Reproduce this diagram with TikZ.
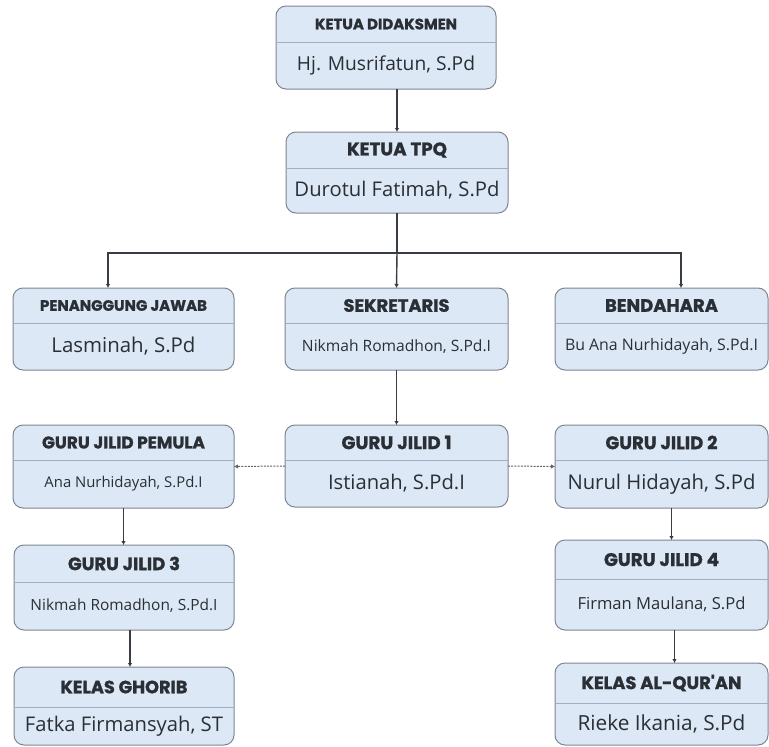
\documentclass[tikz,border=0pt]{standalone}
\usepackage{fontspec}
\setmainfont{Open Sans}
\newfontfamily\hdrfont{Poppins}[BoldFeatures={FakeBold=1.2}]
\usetikzlibrary{arrows.meta,calc}
\definecolor{boxfill}{HTML}{DCE8F5}
\definecolor{boxline}{HTML}{7E8791}
\definecolor{divcol}{HTML}{9FAFC0}
\definecolor{txt}{HTML}{2A2F36}
\definecolor{conn}{HTML}{383D44}
\newcommand\fitw[2]{\resizebox{#1pt}{!}{#2}}
\tikzset{
  orgbox/.style={draw=boxline, fill=boxfill, line width=1pt, rounded corners=10pt, inner sep=0pt, outer sep=0pt},
  divider/.style={draw=divcol, line width=0.9pt},
  hdr/.style={font=\hdrfont\bfseries, text=txt, inner sep=0pt},
  nm/.style={font=\rmfamily, text=txt, inner sep=0pt},
  arr/.style={draw=conn, line width=1.4pt, -{Latex[length=4pt,width=4.5pt]}},
  darr/.style={draw=conn!80, line width=1pt, dash pattern=on 2pt off 1.2pt, -{Latex[length=4pt,width=4.5pt]}},
  plain/.style={draw=conn, line width=1.4pt}
}
\newcommand\orgbox[8]{%
  \pgfmathsetmacro\bw{#4-#2}\pgfmathsetmacro\bh{#5-#3}%
  \pgfmathsetmacro\bx{(#2+#4)/2}\pgfmathsetmacro\by{(#3+#5)/2}%
  \pgfmathsetmacro\hy{(#3+#6)/2}\pgfmathsetmacro\ny{(#6+#5)/2}%
  \node[orgbox, minimum width=\bw pt, minimum height=\bh pt] (#1) at (\bx,\by) {};
  \draw[divider] (#1.west |- 0,#6) -- (#1.east |- 0,#6);
  \node[hdr] (#1-h) at (\bx,\hy) {#7};
  \node[nm] (#1-n) at (\bx,\ny) {#8};
}
\begin{document}
\begin{tikzpicture}[x=1pt,y=-1pt]
\useasboundingbox (0,0) rectangle (769,747);
\fill[white] (0,0) rectangle (769,747);

\orgbox{A}{276}{6}{496}{89}{42}{\fitw{142}{KETUA DIDAKSMEN}}{\fitw{178}{Hj. Musrifatun, S.Pd}}
\orgbox{B}{286}{132}{508}{213}{168}{\fitw{100}{KETUA TPQ}}{\fitw{205}{Durotul Fatimah, S.Pd}}

\orgbox{P}{13}{288}{234}{370}{323}{\fitw{167}{PENANGGUNG JAWAB}}{\fitw{144}{Lasminah, S.Pd}}
\orgbox{S}{285}{288}{508}{370}{323}{\fitw{106}{SEKRETARIS}}{\fitw{189}{Nikmah Romadhon, S.Pd.I}}
\orgbox{Be}{555}{288}{768}{370}{323}{\fitw{113}{BENDAHARA}}{\fitw{193}{Bu Ana Nurhidayah, S.Pd.I}}

\orgbox{GJP}{13}{425}{234}{508}{460}{\fitw{163}{GURU JILID PEMULA}}{\fitw{158}{Ana Nurhidayah, S.Pd.I}}
\orgbox{GJ1}{285}{425}{508}{507}{460}{\fitw{110}{GURU JILID 1}}{\fitw{137}{Istianah, S.Pd.I}}
\orgbox{GJ2}{555}{425}{768}{508}{460}{\fitw{112}{GURU JILID 2}}{\fitw{188}{Nurul Hidayah, S.Pd}}

\orgbox{GJ3}{14}{545}{234}{630}{582}{\fitw{112}{GURU JILID 3}}{\fitw{187}{Nikmah Romadhon, S.Pd.I}}
\orgbox{GJ4}{555}{540}{768}{630}{579}{\fitw{115}{GURU JILID 4}}{\fitw{168}{Firman Maulana, S.Pd}}

\orgbox{KG}{14}{667}{234}{745}{707}{\fitw{127}{KELAS GHORIB}}{\fitw{198}{Fatka Firmansyah, ST}}
\orgbox{KA}{555}{663}{768}{745}{703}{\fitw{160}{KELAS AL-QUR'AN}}{\fitw{168}{Rieke Ikania, S.Pd}}

% connectors
\draw[arr] (A.south -| B.north) -- (B.north);
\coordinate (J) at (B.south |- 0,253);
\draw[plain] (B.south) -- (J);
\draw[arr] (J) -| ([xshift=-15.5pt]P.north);
\draw[arr] (J) -| ([xshift=19.5pt]Be.north);
\draw[arr] (J) -- (S.north);
\draw[arr] (S.south) -- (S.south |- GJ1.north);
\draw[darr] (GJ1.west) -- (GJP.east);
\draw[darr] (GJ1.east) -- (GJ2.west);
\draw[arr] (GJP.south) -- (GJP.south |- GJ3.north);
\draw[arr] ([xshift=6pt]GJ3.south) -- ([xshift=6pt]GJ3.south |- KG.north);
\draw[arr] ([xshift=10pt]GJ2.south) -- ([xshift=10pt]GJ2.south |- GJ4.north);
\draw[arr] ([xshift=13pt]GJ4.south) -- ([xshift=13pt]GJ4.south |- KA.north);
\end{tikzpicture}
\end{document}
